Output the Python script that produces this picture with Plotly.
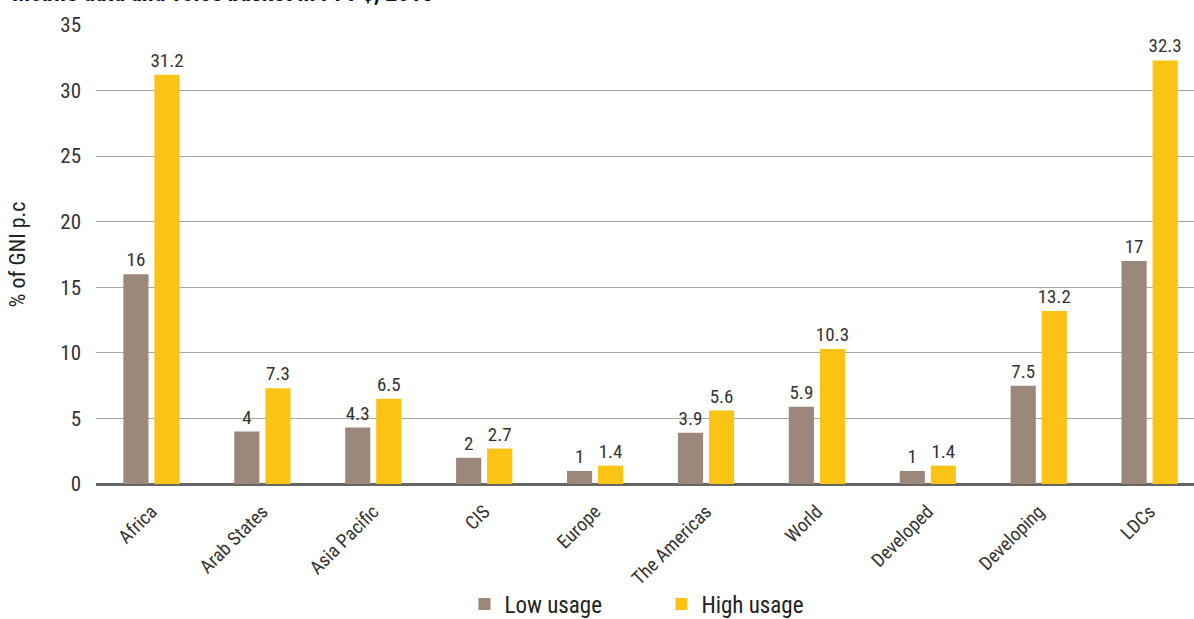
import plotly.graph_objects as go

categories = ["Africa", "Arab States", "Asia Pacific", "CIS", "Europe",
              "The Americas", "World", "Developed", "Developing", "LDCs"]
low_usage = [16, 4, 4.3, 2, 1, 3.9, 5.9, 1, 7.5, 17]
high_usage = [31.2, 7.3, 6.5, 2.7, 1.4, 5.6, 10.3, 1.4, 13.2, 32.3]
y_ticks = [0, 5, 10, 15, 20, 25, 30, 35]

FONT = "Roboto Condensed, Liberation Sans, sans-serif"
LOW_C = "#9C887B"
HIGH_C = "#FBC314"
LABEL_C = "#333333"

fig = go.Figure()
for name, vals, col in [("Low usage", low_usage, LOW_C), ("High usage", high_usage, HIGH_C)]:
    fig.add_trace(go.Bar(
        x=categories, y=vals, name=name,
        marker=dict(color=col, line=dict(width=0)),
        text=[f"{v:g}" for v in vals], textposition="outside",
        constraintext="none", textangle=0,
        textfont=dict(size=19, color=LABEL_C, family=FONT), cliponaxis=False,
    ))

fig.update_layout(
    width=1194, height=619,
    margin=dict(l=96, r=0, t=25, b=135),
    paper_bgcolor="white", plot_bgcolor="white",
    barmode="group", bargap=0.44, bargroupgap=0.19,
    font=dict(family=FONT, color=LABEL_C),
    showlegend=True,
    legend=dict(orientation="h", x=0.515, xanchor="center",
                yref="container", y=0.024, yanchor="middle",
                font=dict(size=23, color="#222222", family=FONT),
                entrywidth=152, itemwidth=30),
    xaxis=dict(range=[-0.5, 9.4], tickangle=-45, tickfont=dict(size=19, color=LABEL_C),
               showgrid=False, showline=False, ticks="outside", ticklen=8,
               tickcolor="rgba(0,0,0,0)", automargin=False),
    yaxis=dict(range=[0, 35], tickvals=y_ticks, tickfont=dict(size=21, color=LABEL_C),
               showgrid=True, gridcolor="#A6A6A6", gridwidth=1,
               zeroline=True, zerolinecolor="#666666", zerolinewidth=3,
               ticklabelstandoff=14, showline=False, automargin=False,
               title=dict(text="% of GNI p.c", font=dict(size=22, color="#222222"), standoff=28)),
    annotations=[dict(text="<b>Mobile data and voice basket in PPP$, 2013</b>",
                      xref="paper", yref="paper", x=-0.078, y=1.035,
                      xanchor="left", yanchor="bottom", showarrow=False,
                      font=dict(size=24, color="#111111", family=FONT))],
)

fig.write_html("out.html")
